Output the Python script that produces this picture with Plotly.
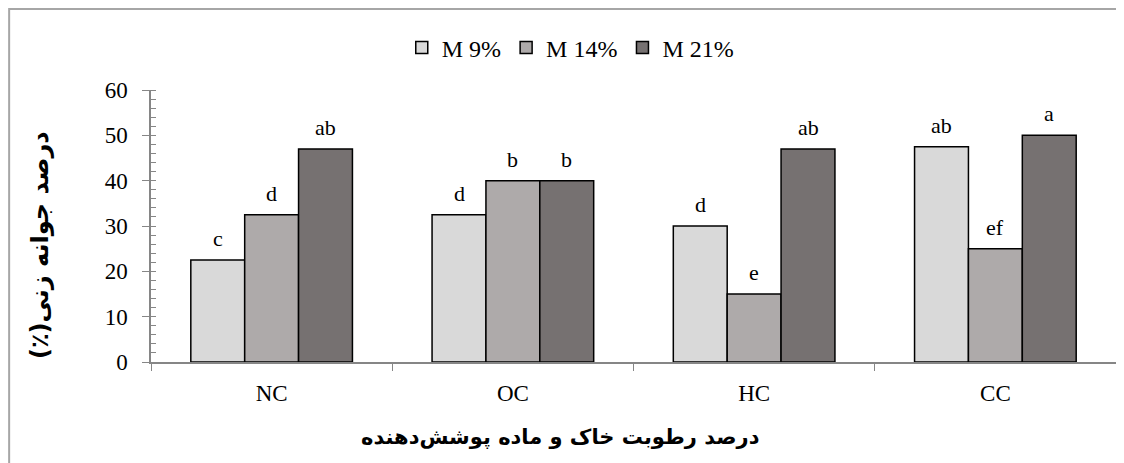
import plotly.graph_objects as go

categories = ["NC", "OC", "HC", "CC"]
series_names = ["M 9%", "M 14%", "M 21%"]
m9 = [22.5, 32.5, 30, 47.5]
m14 = [32.5, 40, 15, 25]
m21 = [47, 40, 47, 50]
labels_m9 = ["c", "d", "d", "ab"]
labels_m14 = ["d", "b", "e", "ef"]
labels_m21 = ["ab", "b", "ab", "a"]
colors = ["#d9d9d9", "#aeaaaa", "#767171"]

serif = "Liberation Serif, Times New Roman, serif"
fa = "DejaVu Sans, sans-serif"

W, H = 1116, 455
ML, MR, MT, MB = 143, 8, 82, 101
BARGAP = 0.33
plot_w = W - ML - MR
bar_px = plot_w / len(categories) * (1 - BARGAP) / len(series_names)

fig = go.Figure()
annotations = []
for i, (name, vals, labs, col) in enumerate(zip(series_names, [m9, m14, m21],
                                                [labels_m9, labels_m14, labels_m21], colors)):
    fig.add_trace(go.Bar(
        x=categories, y=vals, name=name,
        marker=dict(color=col, line=dict(color="black", width=1.5)),
    ))
    for c, v, t in zip(categories, vals, labs):
        annotations.append(dict(
            x=c, y=v, text=t, showarrow=False, xref="x", yref="y",
            xanchor="center", yanchor="bottom",
            xshift=(i - 1) * bar_px, yshift=7,
            font=dict(family=serif, size=22, color="black"),
        ))

annotations += [
    dict(text="<b>درصد جوانه زنی(٪)\u200f</b>", xref="paper", yref="paper",
         x=-0.115, y=0.43, textangle=-90, showarrow=False,
         font=dict(family=fa, size=24, color="black"), xanchor="center", yanchor="middle"),
    dict(text="<b>درصد رطوبت خاک و ماده پوشش\u200cدهنده</b>", xref="paper", yref="paper",
         x=0.424, y=-0.275, showarrow=False,
         font=dict(family=fa, size=21, color="black"), xanchor="center", yanchor="middle"),
]

fig.update_layout(
    width=W, height=H,
    margin=dict(l=ML, r=MR, t=MT, b=MB, autoexpand=False),
    paper_bgcolor="white", plot_bgcolor="white",
    barmode="group", bargap=BARGAP, bargroupgap=0,
    font=dict(family=serif, size=22, color="black"),
    showlegend=True,
    legend=dict(orientation="h", x=0.435, xanchor="center", y=1.155, yanchor="middle",
                font=dict(family=serif, size=24), itemwidth=30, traceorder="normal",
                bgcolor="rgba(0,0,0,0)"),
    xaxis=dict(
        type="category", tickson="boundaries", ticks="outside", ticklen=7,
        tickcolor="#868686", showline=True, linecolor="#868686", linewidth=1.5,
        tickfont=dict(family=serif, size=23), ticklabelstandoff=10,
        showgrid=False, zeroline=False, automargin=False,
    ),
    yaxis=dict(
        range=[0, 60], dtick=10, ticks="outside", ticklen=7, tickcolor="#868686",
        showline=True, linecolor="#868686", linewidth=1.5,
        tickfont=dict(family=serif, size=23), ticklabelstandoff=10,
        showgrid=False, zeroline=False, automargin=False,
        minor=dict(dtick=2, ticks="inside", ticklen=5, tickcolor="#868686", showgrid=False),
    ),
    annotations=annotations,
    shapes=[
        dict(type="rect", xref="paper", yref="paper", x0=-0.147, x1=1.03, y0=-0.45, y1=1.2978,
             line=dict(color="#a6a6a6", width=2), fillcolor="rgba(0,0,0,0)", layer="below"),
    ],
)

fig.write_html("out.html")
